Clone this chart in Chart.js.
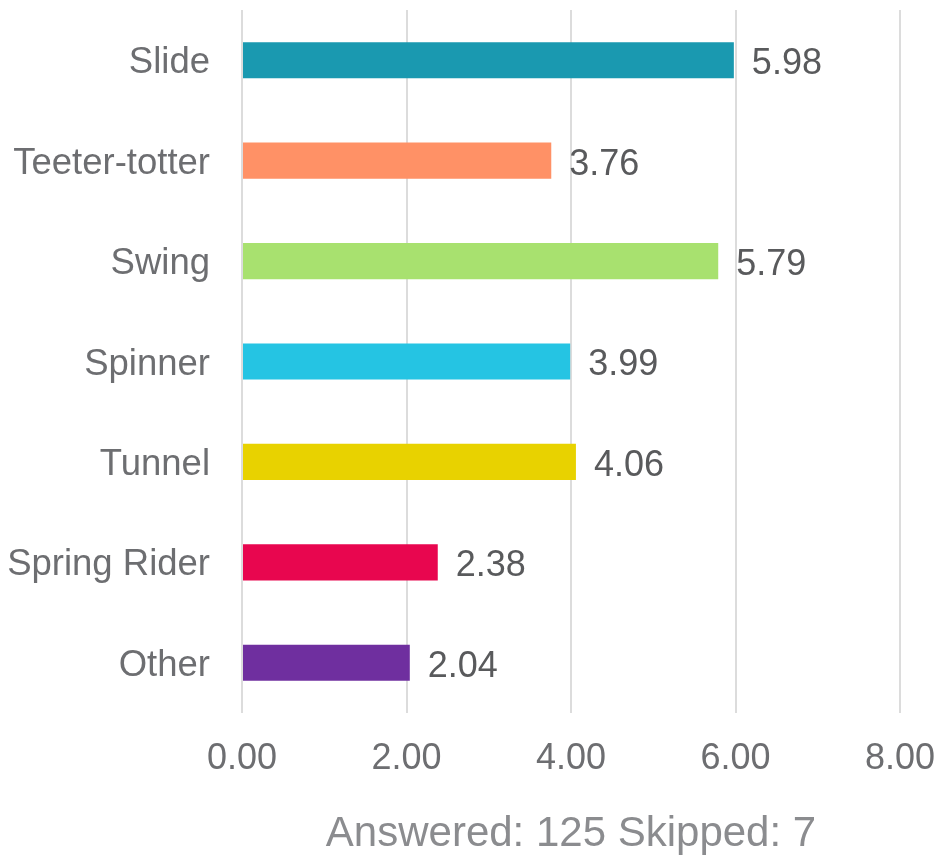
<!DOCTYPE html>
<html>
<head>
<meta charset="utf-8">
<script src="https://cdn.jsdelivr.net/npm/chart.js@4/dist/chart.umd.min.js"></script>
<style>
html,body{margin:0;padding:0;background:#fff;}
#wrap{width:938px;height:855px;position:relative;}
</style>
</head>
<body>
<div id="wrap"><canvas id="c" width="938" height="855"></canvas></div>
<script>
const categories = ["Slide", "Teeter-totter", "Swing", "Spinner", "Tunnel", "Spring Rider", "Other"];
const values = [5.98, 3.76, 5.79, 3.99, 4.06, 2.38, 2.04];
const barColors = ["#1a99b0", "#ff9166", "#a8e16f", "#25c4e3", "#e8d200", "#e8064f", "#6f2f9f"];
const xTicks = [0, 2, 4, 6, 8];
const footerText = "Answered: 125 Skipped: 7";

const FONT = "'Liberation Sans', Arial, sans-serif";

const valueLabels = {
  id: 'valueLabels',
  afterDatasetsDraw(chart) {
    const ctx = chart.ctx;
    const meta = chart.getDatasetMeta(0);
    ctx.save();
    ctx.font = "36px " + FONT;
    ctx.fillStyle = "#595a5c";
    ctx.textAlign = "left";
    ctx.textBaseline = "middle";
    meta.data.forEach((bar, i) => {
      ctx.fillText(values[i].toFixed(2), bar.x + 18, bar.y + 4);
    });
    ctx.restore();
  }
};

const footer = {
  id: 'footer',
  afterDraw(chart) {
    const ctx = chart.ctx;
    const a = chart.chartArea;
    ctx.save();
    ctx.font = "42px " + FONT;
    ctx.fillStyle = "#8b8c8f";
    ctx.textAlign = "center";
    ctx.textBaseline = "middle";
    ctx.fillText(footerText, (a.left + a.right) / 2, 834);
    ctx.restore();
  }
};

new Chart(document.getElementById('c'), {
  type: 'bar',
  data: {
    labels: categories,
    datasets: [{
      data: values,
      backgroundColor: barColors,
      barPercentage: 0.36,
      categoryPercentage: 1.0
    }]
  },
  options: {
    indexAxis: 'y',
    responsive: false,
    animation: false,
    layout: { padding: { top: 10, right: 38, bottom: 0, left: 0 } },
    plugins: { legend: { display: false }, tooltip: { enabled: false } },
    scales: {
      x: {
        min: 0, max: 8,
        afterBuildTicks(scale) { scale.ticks = xTicks.map(v => ({ value: v })); },
        afterFit(scale) {
          scale.height = 142;
          scale.paddingLeft = 0; scale.paddingRight = 0;
          scale.paddingTop = 0; scale.paddingBottom = 0;
        },
        border: { display: false },
        grid: { color: "#dcdcdc", lineWidth: 2, drawTicks: false },
        ticks: {
          padding: 24,
          color: "#6d6e71",
          font: { family: FONT, size: 36 },
          maxRotation: 0,
          callback: (v) => Number(v).toFixed(2)
        }
      },
      y: {
        afterFit(scale) {
          scale.width = 242;
          scale.paddingLeft = 0; scale.paddingRight = 0;
          scale.paddingTop = 0; scale.paddingBottom = 0;
        },
        border: { display: false },
        grid: { display: false, drawTicks: false },
        ticks: {
          padding: 32,
          labelOffset: 3,
          color: "#6d6e71",
          font: { family: FONT, size: 36.5 }
        }
      }
    }
  },
  plugins: [valueLabels, footer]
});
</script>
</body>
</html>
